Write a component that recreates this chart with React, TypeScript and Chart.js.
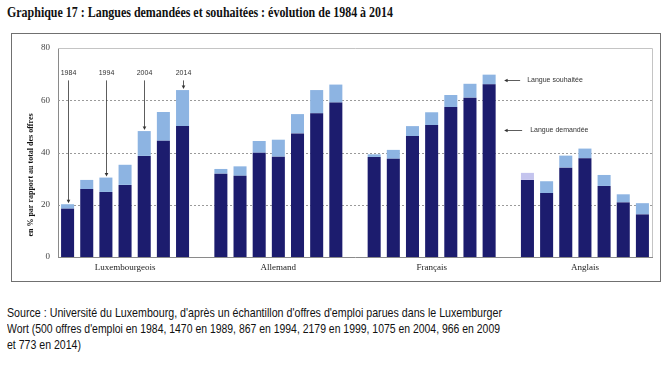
import React, { useEffect, useRef } from "react";
import { Chart, registerables } from "chart.js";

Chart.register(...registerables);

// ---- data ----
const languages = ["Luxembourgeois", "Allemand", "Français", "Anglais"];
const years = ["1984", "1989", "1994", "1999", "2004", "2009", "2014"];

const luxDemandee = [18.5, 26.0, 24.9, 27.6, 38.7, 44.5, 50.1];
const luxSouhaitee = [20.2, 29.5, 30.4, 35.3, 48.2, 55.5, 63.9];
const allDemandee = [31.9, 31.1, 39.9, 38.4, 47.3, 55.0, 59.1];
const allSouhaitee = [33.7, 34.7, 44.4, 44.9, 54.7, 63.9, 66.0];
const frDemandee = [38.3, 37.6, 46.3, 50.5, 57.4, 61.0, 66.1];
const frSouhaitee = [39.3, 41.0, 50.1, 55.4, 62.0, 66.3, 69.8];
const angDemandee = [29.5, 24.5, 34.2, 37.8, 27.2, 20.9, 16.3];
const angSouhaitee = [32.2, 29.0, 38.8, 41.5, 31.4, 24.0, 20.6];

const yTicks = [0, 20, 40, 60, 80];
const annotatedYears = ["1984", "1994", "2004", "2014"];
const legendLabels = ["Langue souhaitée", "Langue demandée"];

const titleText = "Graphique 17 : Langues demandées et souhaitées : évolution de 1984 à 2014";
const yTitle = "en % par rapport au total des offres";
const sourceLines = [
  "Source : Université du Luxembourg, d'après un échantillon d'offres d'emploi parues dans le Luxemburger",
  "Wort (500 offres d'emploi en 1984, 1470 en 1989, 867 en 1994, 2179 en 1999, 1075 en 2004, 966 en 2009",
  "et 773 en 2014)",
];

// ---- styles ----
const NAVY = "#1c1c6e";
const LIGHT = "#8db4e2";
const LAVENDER = "#c4c4ee";

const demandees = [luxDemandee, allDemandee, frDemandee, angDemandee];
const souhaitees = [luxSouhaitee, allSouhaitee, frSouhaitee, angSouhaitee];

type Slot = { li: number; yi: number } | null;
const slots: Slot[] = [];
languages.forEach((_, li) => {
  years.forEach((__, yi) => slots.push({ li, yi }));
  if (li < languages.length - 1) slots.push(null);
});
const slotLabels = slots.map((s, i) => (s ? languages[s.li] + " " + years[s.yi] : "gap" + i));

const framePlugin = {
  id: "frame",
  beforeDatasetsDraw(chart: any) {
    const { ctx, chartArea, scales } = chart;
    const y = scales.y;
    ctx.save();
    ctx.strokeStyle = "#9a9a9a";
    ctx.lineWidth = 1;
    ctx.setLineDash([2, 2]);
    yTicks.forEach((t) => {
      if (t === 0 || t === yTicks[yTicks.length - 1]) return;
      const py = Math.round(y.getPixelForValue(t)) + 0.5;
      ctx.beginPath();
      ctx.moveTo(chartArea.left, py);
      ctx.lineTo(chartArea.right, py);
      ctx.stroke();
    });
    ctx.setLineDash([]);
    ctx.strokeStyle = "#c4c4c4";
    const top = Math.round(y.getPixelForValue(yTicks[yTicks.length - 1])) + 0.5;
    ctx.beginPath();
    ctx.moveTo(chartArea.left, top);
    ctx.lineTo(Math.round(chartArea.right) + 0.5, top);
    ctx.lineTo(Math.round(chartArea.right) + 0.5, chartArea.bottom);
    ctx.stroke();
    ctx.restore();
  },
  afterDatasetsDraw(chart: any) {
    const { ctx, scales } = chart;
    const x = scales.x;
    const y = scales.y;
    ctx.save();
    ctx.fillStyle = "#333";
    ctx.strokeStyle = "#333";
    ctx.lineWidth = 0.8;
    ctx.font = "7px 'Liberation Sans', Arial, sans-serif";
    ctx.textAlign = "center";
    ctx.textBaseline = "middle";
    const arrowDown = (px: number, y0: number, y1: number) => {
      ctx.beginPath();
      ctx.moveTo(px, y0);
      ctx.lineTo(px, y1 - 2);
      ctx.stroke();
      ctx.beginPath();
      ctx.moveTo(px - 1.8, y1 - 3.5);
      ctx.lineTo(px + 1.8, y1 - 3.5);
      ctx.lineTo(px, y1);
      ctx.closePath();
      ctx.fill();
    };
    annotatedYears.forEach((yr) => {
      const yi = years.indexOf(yr);
      const px = Math.round(x.getPixelForValue(yi)) + 0.5;
      const topPx = y.getPixelForValue(luxSouhaitee[yi]) - 1;
      ctx.fillText(yr, px, y.getPixelForValue(70.5));
      arrowDown(px, y.getPixelForValue(67.6), topPx);
    });
    // legend arrows next to Français 2014
    const frIdx = 2 * (years.length + 1) + (years.length - 1);
    const bx = x.getPixelForValue(frIdx);
    const levels = [67.7, 48.6];
    ctx.textAlign = "left";
    ctx.font = "7px 'Liberation Sans', Arial, sans-serif";
    legendLabels.forEach((lab, i) => {
      const py = Math.round(y.getPixelForValue(levels[i])) + 0.5;
      const tip = bx + 15;
      const tail = bx + 31 + i * 2;
      ctx.beginPath();
      ctx.moveTo(tip + 2, py);
      ctx.lineTo(tail, py);
      ctx.stroke();
      ctx.beginPath();
      ctx.moveTo(tip, py);
      ctx.lineTo(tip + 3.5, py - 1.8);
      ctx.lineTo(tip + 3.5, py + 1.8);
      ctx.closePath();
      ctx.fill();
      ctx.fillText(lab, bx + 38 + i * 3, py);
    });
    // y title
    ctx.translate(18.5, 141);
    ctx.rotate(-Math.PI / 2);
    ctx.textAlign = "center";
    ctx.fillStyle = "#111";
    ctx.font = "bold 8px 'Liberation Serif', 'Times New Roman', serif";
    ctx.fillText(yTitle, 0, 0);
    ctx.restore();
  },
};

function FitText({ text, width, style }: { text: string; width: number; style: any }) {
  const ref = useRef<HTMLSpanElement>(null);
  useEffect(() => {
    const el = ref.current;
    if (!el) return;
    el.style.transform = "none";
    const w = el.getBoundingClientRect().width;
    if (w > 0) el.style.transform = `scaleX(${width / w})`;
  }, [text, width]);
  return (
    <span
      ref={ref}
      style={{ ...style, display: "inline-block", whiteSpace: "nowrap", transformOrigin: "0 0" }}
    >
      {text}
    </span>
  );
}

export default function App() {
  const canvasRef = useRef<HTMLCanvasElement>(null);

  useEffect(() => {
    const canvas = canvasRef.current;
    if (!canvas) return;
    const demData = slots.map((s) => (s ? demandees[s.li][s.yi] : null));
    const souData = slots.map((s) => (s ? [demandees[s.li][s.yi], souhaitees[s.li][s.yi]] : null));
    const souColors = slots.map((s) => (s && s.li === 3 && s.yi === 0 ? LAVENDER : LIGHT));
    const chart = new Chart(canvas, {
      type: "bar",
      data: {
        labels: slotLabels,
        datasets: [
          {
            label: "Langue demandée",
            data: demData as any,
            backgroundColor: NAVY,
            grouped: false,
            barPercentage: 0.68,
            categoryPercentage: 1,
          },
          {
            label: "Langue souhaitée",
            data: souData as any,
            backgroundColor: souColors,
            grouped: false,
            barPercentage: 0.68,
            categoryPercentage: 1,
          },
        ],
      },
      options: {
        responsive: false,
        animation: false,
        devicePixelRatio: 1,
        layout: { padding: { left: 0, right: 8, top: 14, bottom: 0 } },
        plugins: { legend: { display: false }, tooltip: { enabled: false }, title: { display: false } },
        scales: {
          x: {
            type: "category",
            grid: { display: false, drawTicks: false },
            border: { display: true, color: "#8a8a8a" },
            ticks: {
              autoSkip: false,
              maxRotation: 0,
              padding: 5,
              color: "#222",
              font: { family: "'Liberation Serif', 'Times New Roman', serif", size: 9 },
              callback: (_v: any, i: number) => {
                const s = slots[i];
                return s && s.yi === 3 ? languages[s.li] : "";
              },
            },
            afterFit: (scale: any) => {
              scale.height = 24;
            },
          },
          y: {
            min: 0,
            max: 80,
            grid: { display: false, drawTicks: false },
            border: { display: true, color: "#8a8a8a" },
            ticks: {
              stepSize: 20,
              padding: 8,
              color: "#444",
              font: { family: "'Liberation Serif', 'Times New Roman', serif", size: 9 },
              callback: (v: any) => (yTicks.includes(Number(v)) ? String(v) : ""),
            },
            afterFit: (scale: any) => {
              scale.width = 46;
            },
          },
        },
      },
      plugins: [framePlugin],
    });
    return () => chart.destroy();
  }, []);

  const sansFont = "'Liberation Sans', Arial, sans-serif";
  return (
    <div style={{ position: "absolute", left: 0, top: 0, width: 672, height: 367, background: "#fff", overflow: "hidden" }}>
      <div style={{ position: "absolute", left: 7, top: 4, lineHeight: "16px" }}>
        <FitText
          text={titleText}
          width={386}
          style={{ fontFamily: "'Liberation Serif', 'Times New Roman', serif", fontWeight: "bold", fontSize: 14, color: "#111" }}
        />
      </div>
      <div
        style={{
          position: "absolute",
          left: 11,
          top: 33,
          width: 648,
          height: 247,
          border: "1px solid #707070",
        }}
      >
        <canvas ref={canvasRef} width={648} height={247} style={{ display: "block", width: 648, height: 247 }} />
      </div>
      {sourceLines.map((line, i) => (
        <div key={i} style={{ position: "absolute", left: 7, top: [303.5, 320, 335.5][i], lineHeight: "16px" }}>
          <FitText
            text={line}
            width={[495, 493, 74][i]}
            style={{ fontFamily: sansFont, fontSize: 13, color: "#111" }}
          />
        </div>
      ))}
    </div>
  );
}
